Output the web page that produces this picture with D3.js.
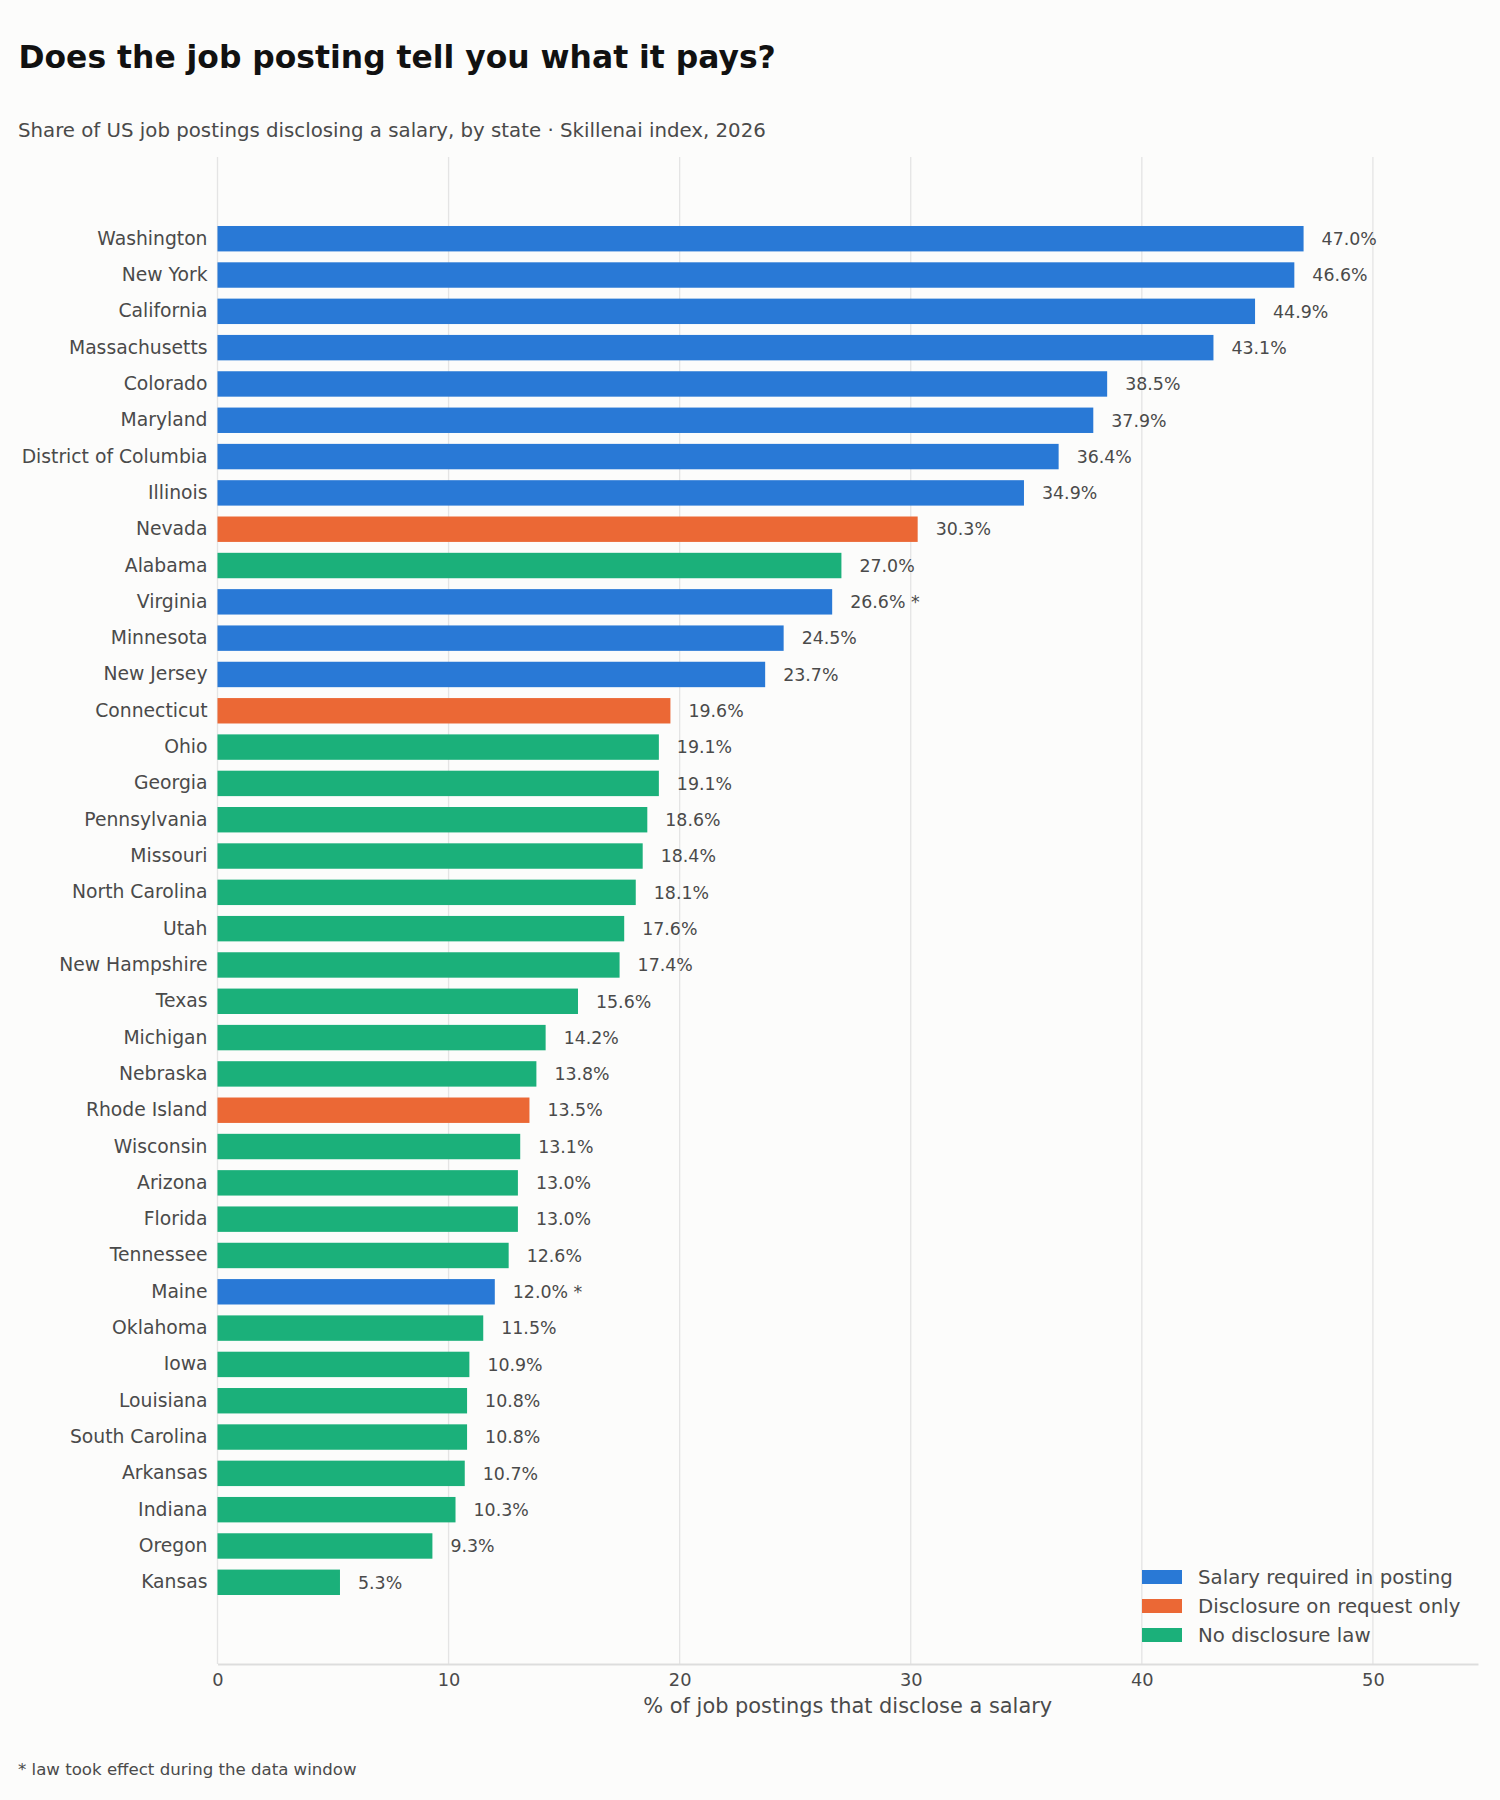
<!DOCTYPE html>
<html>
<head>
<meta charset="utf-8">
<script src="https://cdn.jsdelivr.net/npm/d3@7"></script>
<style>
  body { margin: 0; background: #fcfcfb; }
  text { font-family: "DejaVu Sans", sans-serif; }
</style>
</head>
<body>
<script>
// states, top to bottom
const states = ["Washington", "New York", "California", "Massachusetts", "Colorado", "Maryland",
  "District of Columbia", "Illinois", "Nevada", "Alabama", "Virginia", "Minnesota", "New Jersey",
  "Connecticut", "Ohio", "Georgia", "Pennsylvania", "Missouri", "North Carolina", "Utah",
  "New Hampshire", "Texas", "Michigan", "Nebraska", "Rhode Island", "Wisconsin", "Arizona",
  "Florida", "Tennessee", "Maine", "Oklahoma", "Iowa", "Louisiana", "South Carolina", "Arkansas",
  "Indiana", "Oregon", "Kansas"];
const shares = [47.0, 46.6, 44.9, 43.1, 38.5, 37.9, 36.4, 34.9, 30.3, 27.0, 26.6, 24.5, 23.7,
  19.6, 19.1, 19.1, 18.6, 18.4, 18.1, 17.6, 17.4, 15.6, 14.2, 13.8, 13.5, 13.1, 13.0,
  13.0, 12.6, 12.0, 11.5, 10.9, 10.8, 10.8, 10.7, 10.3, 9.3, 5.3];
// R = salary required, Q = on request only, N = no law
const lawType = ["R", "R", "R", "R", "R", "R", "R", "R", "Q", "N", "R", "R", "R",
  "Q", "N", "N", "N", "N", "N", "N", "N", "N", "N", "N", "Q", "N", "N",
  "N", "N", "R", "N", "N", "N", "N", "N", "N", "N", "N"];
const lateLaw = ["Virginia", "Maine"];   // marked with *
const legendKeys = ["R", "Q", "N"];
const legendLabels = ["Salary required in posting", "Disclosure on request only", "No disclosure law"];
const xTicks = [0, 10, 20, 30, 40, 50];

const rows = states.map((s, i) => ({state: s, value: shares[i], type: lawType[i]}));

const W = 1500, H = 1800;
const plot = {left: 217.5, right: 1478, top: 157, bottom: 1664};

const color = d3.scaleOrdinal().domain(legendKeys).range(["#2979d6", "#eb6835", "#1bb07a"]);

const x = d3.scaleLinear().domain([0, d3.max(shares) * 1.1606]).range([plot.left, plot.right]);
const y = d3.scaleBand().domain(states).range([plot.top, plot.bottom])
  .paddingInner(0.3).paddingOuter(1.9);

const svg = d3.select("body").append("svg")
  .attr("width", W).attr("height", H);

svg.append("rect").attr("width", W).attr("height", H).attr("fill", "#fcfcfb");

// title + subtitle
svg.append("text").attr("x", 18.5).attr("y", 67.5)
  .attr("font-size", 31.4).attr("font-weight", "bold").attr("fill", "#111")
  .text("Does the job posting tell you what it pays?");
svg.append("text").attr("x", 18).attr("y", 136.5)
  .attr("font-size", 19.75).attr("fill", "#4a4a4a")
  .text("Share of US job postings disclosing a salary, by state · Skillenai index, 2026");

// vertical grid
svg.append("g").selectAll("line")
  .data(xTicks)
  .join("line")
  .attr("x1", d => x(d)).attr("x2", d => x(d))
  .attr("y1", plot.top).attr("y2", plot.bottom)
  .attr("stroke", "#e4e4e4").attr("stroke-width", 1.3);

// bars
svg.append("g").selectAll("rect")
  .data(rows)
  .join("rect")
  .attr("x", x(0))
  .attr("y", d => y(d.state))
  .attr("width", d => x(d.value) - x(0))
  .attr("height", y.bandwidth())
  .attr("fill", d => color(d.type));

// value labels
svg.append("g").selectAll("text")
  .data(rows)
  .join("text")
  .attr("x", d => x(d.value) + 18)
  .attr("y", d => y(d.state) + y.bandwidth() / 2)
  .attr("dy", "0.36em")
  .attr("font-size", 17.4).attr("fill", "#4a4a4a")
  .text(d => d.value.toFixed(1) + "%" + (lateLaw.includes(d.state) ? " *" : ""));

// y axis labels
const yAxis = svg.append("g")
  .attr("transform", `translate(${plot.left},0)`)
  .call(d3.axisLeft(y).tickSize(0).tickPadding(10));
yAxis.select(".domain").remove();
yAxis.selectAll("text")
  .attr("font-size", 18.75).attr("fill", "#4a4a4a")
  .attr("font-family", "DejaVu Sans, sans-serif");

// x axis
const xAxis = svg.append("g")
  .attr("transform", `translate(0,${plot.bottom})`)
  .call(d3.axisBottom(x).tickValues(xTicks).tickSize(0).tickPadding(9).tickFormat(d3.format("d")));
xAxis.select(".domain").attr("stroke", "#dddddd").attr("stroke-width", 2.2);
xAxis.selectAll("text")
  .attr("font-size", 17.8).attr("fill", "#4a4a4a")
  .attr("font-family", "DejaVu Sans, sans-serif");

svg.append("text")
  .attr("x", (plot.left + plot.right) / 2).attr("y", 1713)
  .attr("text-anchor", "middle")
  .attr("font-size", 20.9).attr("fill", "#4a4a4a")
  .text("% of job postings that disclose a salary");

// legend
const legend = svg.append("g").attr("transform", "translate(1142,1577)");
const item = legend.selectAll("g")
  .data(legendKeys)
  .join("g")
  .attr("transform", (d, i) => `translate(0,${i * 29})`);
item.append("rect")
  .attr("x", 0).attr("y", -7).attr("width", 40).attr("height", 14)
  .attr("fill", d => color(d));
item.append("text")
  .attr("x", 56).attr("dy", "0.36em")
  .attr("font-size", 19.75).attr("fill", "#4a4a4a")
  .text((d, i) => legendLabels[i]);

// footnote
svg.append("text").attr("x", 18).attr("y", 1775)
  .attr("font-size", 16.6).attr("fill", "#4a4a4a")
  .text("* law took effect during the data window");
</script>
</body>
</html>
